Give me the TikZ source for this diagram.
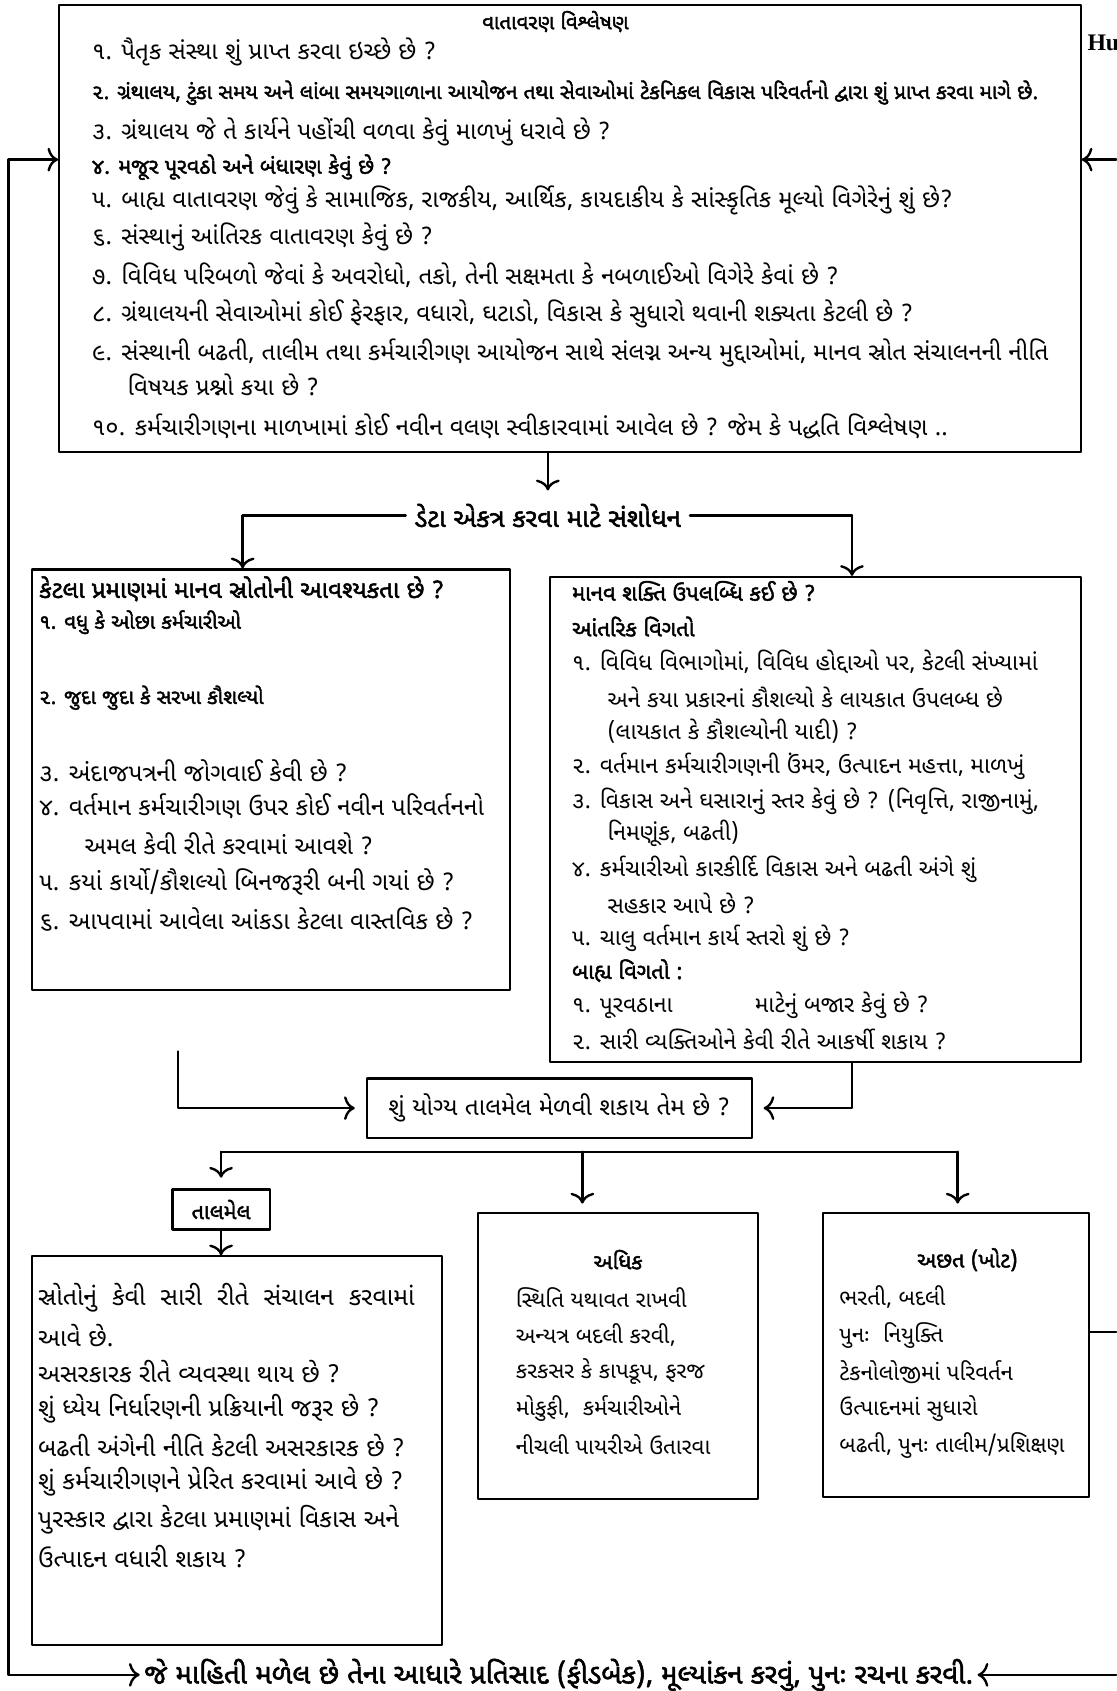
\documentclass[tikz,border=0pt]{standalone}
\usepackage{fontspec}
\setmainfont[Script=Gujarati,AutoFakeBold=2]{Noto Sans Gujarati UI}
\newfontfamily\latinserif{Liberation Serif}
\usetikzlibrary{arrows.meta,fit,calc}

\newcommand\gsize[1]{\fontsize{#1}{12}\selectfont}
\tikzset{
  box/.style={draw,line width=1pt,inner sep=0pt},
  ln/.style={anchor=west,inner sep=0pt,font=\gsize{11}},
  lnb/.style={ln,font=\gsize{10}\bfseries},
  conn/.style={line width=1.1pt},
}

\begin{document}
\begin{tikzpicture}[x=0.5pt,y=-0.5pt,line cap=round,line join=round,
  >={Computer Modern Rightarrow[length=5pt,width=11pt]}]
\useasboundingbox (0,0) rectangle (1035,1568);

% environment analysis
\node[box,fit={(55,5) (1002,419)}] (env) {};
\node[lnb,anchor=center,font=\gsize{9.5}\bfseries] (envt) at (515,20) {વાતાવરણ વિશ્લેષણ};
\node[ln,font=\gsize{11.2}] (e1) at (85,48) {૧. પૈતૃક સંસ્થા શું પ્રાપ્ત કરવા ઇચ્છે છે ?};
\node[lnb,font=\gsize{9.6}\bfseries] (e2) at (85,86) {૨. ગ્રંથાલય, ટુંકા સમય અને લાંબા સમયગાળાના આયોજન તથા સેવાઓમાં ટેકનિકલ વિકાસ પરિવર્તનો દ્વારા શું પ્રાપ્ત કરવા માગે છે.};
\node[ln,font=\gsize{11.2}] (e3) at (85,122) {૩. ગ્રંથાલય જે તે કાર્યને પહોંચી વળવા કેવું માળખું ધરાવે છે ?};
\node[lnb] (e4) at (85,155) {૪. મજૂર પૂરવઠો અને બંધારણ કેવું છે ?};
\foreach \yy/\txt in {
  186/{૫. બાહ્ય વાતાવરણ જેવું કે સામાજિક, રાજકીય, આર્થિક, કાયદાકીય કે સાંસ્કૃતિક મૂલ્યો વિગેરેનું શું છે?},
  220/{૬. સંસ્થાનું આંતિરક વાતાવરણ કેવું છે ?},
  255/{૭. વિવિધ પરિબળો જેવાં કે અવરોધો, તકો, તેની સક્ષમતા કે નબળાઈઓ વિગેરે કેવાં છે ?},
  291/{૮. ગ્રંથાલયની સેવાઓમાં કોઈ ફેરફાર, વધારો, ઘટાડો, વિકાસ કે સુધારો થવાની શક્યતા કેટલી છે ?},
  327/{૯. સંસ્થાની બઢતી, તાલીમ તથા કર્મચારીગણ આયોજન સાથે સંલગ્ન અન્ય મુદ્દાઓમાં, માનવ સ્રોત સંચાલનની નીતિ},
  395/{૧૦. કર્મચારીગણના માળખામાં કોઈ નવીન વલણ સ્વીકારવામાં આવેલ છે ? જેમ કે પદ્ધતિ વિશ્લેષણ ..}}
  \node[ln,font=\gsize{11.2}] (e\yy) at (85,\yy) {\txt};
\node[ln,font=\gsize{11.2}] (e9b) at (118,357) {વિષયક પ્રશ્નો કયા છે ?};

\node[anchor=west,inner sep=0pt,font=\latinserif\bfseries\gsize{11}] (hu) at (1008,40) {Hu};

% data collection
\node[lnb,anchor=center,inner xsep=4pt,font=\gsize{12}\bfseries] (dc) at (508,478) {ડેટા એકત્ર કરવા માટે સંશોધન};
\coordinate (lbr) at (225,478);
\coordinate (rbr) at (790,478);

% how many human resources are needed
\node[box,fit={(30,528) (473,918)}] (need) {};
\node[lnb,font=\gsize{11.2}\bfseries] (n0) at (36,546) {કેટલા પ્રમાણમાં માનવ સ્રોતોની આવશ્યકતા છે ?};
\node[lnb,font=\gsize{9.5}\bfseries] (n1) at (36,577) {૧. વધુ કે ઓછા કર્મચારીઓ};
\node[lnb,font=\gsize{9.5}\bfseries] (n2) at (36,647) {૨. જુદા જુદા કે સરખા કૌશલ્યો};
\foreach \yy/\txt in {
  715/{૩. અંદાજપત્રની જોગવાઈ કેવી છે ?},
  748/{૪. વર્તમાન કર્મચારીગણ ઉપર કોઈ નવીન પરિવર્તનનો},
  818/{૫. કયાં કાર્યો/કૌશલ્યો બિનજરૂરી બની ગયાં છે ?},
  853/{૬. આપવામાં આવેલા આંકડા કેટલા વાસ્તવિક છે ?}}
  \node[ln,font=\gsize{11.3}] (n\yy) at (36,\yy) {\txt};
\node[ln,font=\gsize{11.3}] (n4b) at (78,782) {અમલ કેવી રીતે કરવામાં આવશે ?};

% manpower available
\node[box,fit={(510,535) (1002,985)}] (avail) {};
\node[lnb,font=\gsize{10.2}\bfseries] (a0) at (530,548) {માનવ શક્તિ ઉપલબ્ધિ કઈ છે ?};
\node[lnb,font=\gsize{10.2}\bfseries] (a1) at (530,581) {આંતરિક વિગતો};
\node[lnb,font=\gsize{10.2}\bfseries] (a2) at (530,900) {બાહ્ય વિગતો :};
\foreach \yy/\txt in {
  614/{૧. વિવિધ વિભાગોમાં, વિવિધ હોદ્દાઓ પર, કેટલી સંખ્યામાં},
  711/{૨. વર્તમાન કર્મચારીગણની ઉંમર, ઉત્પાદન મહત્તા, માળખું},
  743/{૩. વિકાસ અને ઘસારાનું સ્તર કેવું છે ? (નિવૃત્તિ, રાજીનામું,},
  806/{૪. કર્મચારીઓ કારકીર્દિ વિકાસ અને બઢતી અંગે શું},
  870/{૫. ચાલુ વર્તમાન કાર્ય સ્તરો શું છે ?},
  932/{૧. પૂરવઠાના \hspace{3em} માટેનું બજાર કેવું છે ?},
  964/{૨. સારી વ્યક્તિઓને કેવી રીતે આકર્ષી શકાય ?}}
  \node[ln,font=\gsize{10.6}] (a\yy) at (530,\yy) {\txt};
\foreach \yy/\txt in {
  647/{અને કયા પ્રકારનાં કૌશલ્યો કે લાયકાત ઉપલબ્ધ છે},
  678/{(લાયકાત કે કૌશલ્યોની યાદી) ?},
  773/{નિમણૂંક, બઢતી)},
  838/{સહકાર આપે છે ?}}
  \node[ln,font=\gsize{10.6}] (a\yy) at (563,\yy) {\txt};

% can a match be found
\node[box,fit={(340,1000) (697,1055)}] (match) {};
\node[ln,anchor=center,font=\gsize{11.3}] (matcht) at (match.center) {શું યોગ્ય તાલમેલ મેળવી શકાય તેમ છે ?};
\coordinate (lq) at (165,975);
\coordinate (sl) at (205,1068);
\coordinate (sm) at (540,1068);
\coordinate (sr) at (888,1068);

% match
\node[box,fit={(160,1103) (250,1140)}] (tal) {};
\node[lnb,anchor=center] (talt) at (tal.center) {તાલમેલ};

\node[box,fit={(30,1165) (410,1525)}] (how) {};
\node[ln,font=\gsize{11.5}] (h1203) at (35,1203) {સ્રોતોનું \ કેવી \ સારી \ રીતે \ સંચાલન \ કરવામાં};
\foreach \yy/\txt in {
  1238/{આવે છે.},
  1272/{અસરકારક રીતે વ્યવસ્થા થાય છે ?},
  1306/{શું ધ્યેય નિર્ધારણની પ્રક્રિયાની જરૂર છે ?},
  1340/{બઢતી અંગેની નીતિ કેટલી અસરકારક છે ?},
  1374/{શું કર્મચારીગણને પ્રેરિત કરવામાં આવે છે ?},
  1409/{પુરસ્કાર દ્વારા કેટલા પ્રમાણમાં વિકાસ અને},
  1443/{ઉત્પાદન વધારી શકાય ?}}
  \node[ln,font=\gsize{11.5}] (h\yy) at (35,\yy) {\txt};

% surplus
\node[box,fit={(443,1125) (703,1390)}] (more) {};
\node[lnb,anchor=center] (moret) at (573,1168) {અધિક};
\foreach \yy/\txt in {
  1203/{સ્થિતિ યથાવત રાખવી},
  1238/{અન્યત્ર બદલી કરવી,},
  1272/{કરકસર કે કાપકૂપ, ફરજ},
  1306/{મોકુફી, \ કર્મચારીઓને},
  1340/{નીચલી પાયરીએ ઉતારવા}}
  \node[ln,font=\gsize{10.3}] (m\yy) at (478,\yy) {\txt};

% shortage
\node[box,fit={(763,1125) (1010,1388)}] (short) {};
\node[lnb,anchor=center] (shortt) at (897,1168) {અછત (ખોટ)};
\foreach \yy/\txt in {
  1203/{ભરતી, બદલી},
  1238/{પુનઃ \ નિયુક્તિ},
  1272/{ટેકનોલોજીમાં પરિવર્તન},
  1306/{ઉત્પાદનમાં સુધારો},
  1340/{બઢતી, પુનઃ તાલીમ/પ્રશિક્ષણ}}
  \node[ln,font=\gsize{10.3}] (s\yy) at (778,\yy) {\txt};

% feedback
\node[lnb,anchor=center,inner xsep=2pt,font=\gsize{12.8}\bfseries] (fb) at (518,1553) {જે માહિતી મળેલ છે તેના આધારે પ્રતિસાદ (ફીડબેક), મૂલ્યાંકન કરવું, પુનઃ રચના કરવી.};
\coordinate (loopb) at (8,1553);
\coordinate (loopt) at (8,148);
\coordinate (rtop) at (1035,148);
\coordinate (rmid) at (1035,1235);
\coordinate (rbot) at (1035,1553);

% connectors
\begin{scope}[conn]
\draw[<->] (fb.west) -- (loopb) -- (loopt) -- (loopt -| env.west);
\draw[->] (rtop) -- (rtop -| env.east);
\draw (rmid -| short.east) -- (rmid);
\draw[->] (rbot) -- (fb.east);
\draw[->,shorten >=6pt] (env.south -| dc) -- (dc.north);
\draw (dc.west) -- (lbr);
\draw[->] (lbr) -- (lbr |- need.north);
\draw (dc.east) -- (rbr);
\draw[->] (rbr) -- (rbr |- avail.north);
\draw[->,shorten >=5pt] (lq) |- (match.west);
\draw[->,shorten >=5pt] (avail.south -| rbr) |- (match.east);
\draw (sl) -- (sr);
\draw[->,shorten >=5pt] (sl) -- (tal.north);
\draw[->,shorten >=4pt] (sm) -- (sm |- more.north);
\draw[->,shorten >=4pt] (sr) -- (sr |- short.north);
\draw[->] (tal.south) -- (tal.south |- how.north);
\end{scope}
\end{tikzpicture}
\end{document}
